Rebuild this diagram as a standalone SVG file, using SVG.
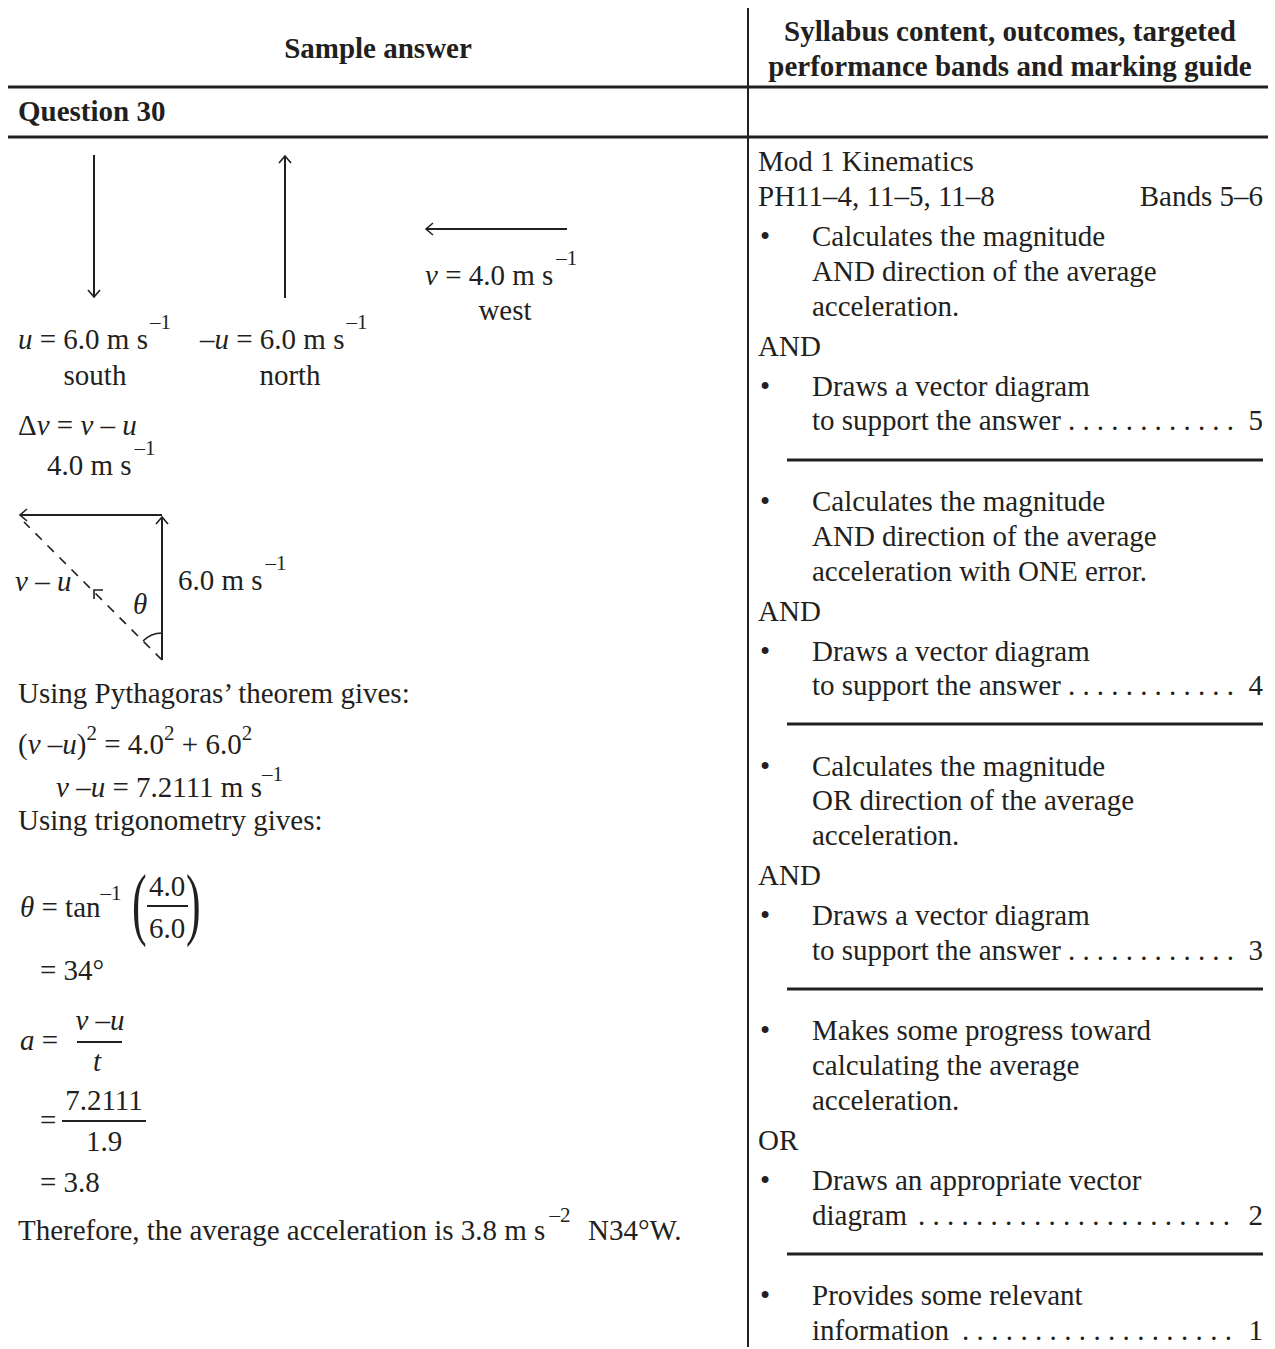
<svg xmlns="http://www.w3.org/2000/svg" width="1275" height="1349" viewBox="0 0 1275 1349">
<style>
text{font-family:"Liberation Serif","Times New Roman",serif;font-size:29px;fill:#231f20}
.b{font-weight:bold}
.i{font-style:italic}
.sup{font-size:21px}
.m{text-anchor:middle}
.e{text-anchor:end}
.rule{stroke:#231f20;stroke-width:3;fill:none}
.thin{stroke:#231f20;stroke-width:2;fill:none}
.vec{stroke:#231f20;stroke-width:2;fill:none}
</style>
<defs>
<marker id="ah" markerUnits="userSpaceOnUse" markerWidth="20" markerHeight="20" refX="0" refY="0" viewBox="-10 -10 20 20" orient="auto" overflow="visible">
<path d="M-7,-6 L0,0 L-7,6" fill="none" stroke="#231f20" stroke-width="1.6"/>
</marker>
</defs>

<g id="table">
<line class="rule" x1="8" y1="87" x2="1268" y2="87"/>
<line class="rule" x1="8" y1="137" x2="1268" y2="137"/>
<line class="thin" x1="748" y1="8" x2="748" y2="1347"/>
</g>

<g id="header">
<text class="b m" x="378" y="58">Sample answer</text>
<text class="b m" x="1010" y="41">Syllabus content, outcomes, targeted</text>
<text class="b m" x="1010" y="76">performance bands and marking guide</text>
<text class="b" x="18" y="121">Question 30</text>
</g>

<g id="connectors">
<line class="vec" x1="94" y1="155" x2="94" y2="297" marker-end="url(#ah)"/>
<line class="vec" x1="285" y1="298" x2="285" y2="156" marker-end="url(#ah)"/>
<line class="vec" x1="567" y1="229" x2="426" y2="229" marker-end="url(#ah)"/>
<line class="vec" x1="162" y1="515" x2="20" y2="515" marker-end="url(#ah)"/>
<line class="vec" x1="162" y1="660" x2="162" y2="517" marker-end="url(#ah)"/>
<line x1="162" y1="660" x2="24" y2="522" stroke="#231f20" stroke-width="1.6" stroke-dasharray="9,8"/>
<path d="M103,590 L94,590 L94,599" fill="none" stroke="#231f20" stroke-width="1.6"/>
<path d="M162,633 A27,27 0 0 0 143,641" fill="none" stroke="#231f20" stroke-width="1.6"/>
</g>

<g id="vector-labels">
<text x="18" y="349"><tspan class="i">u</tspan> = 6.0 m s<tspan class="sup" dx="2" dy="-20">–1</tspan></text>
<text class="m" x="95" y="385">south</text>
<text x="200" y="349">–<tspan class="i">u</tspan> = 6.0 m s<tspan class="sup" dx="2" dy="-20">–1</tspan></text>
<text class="m" x="290" y="385">north</text>
<text x="425" y="285"><tspan class="i">v</tspan> = 4.0 m s<tspan class="sup" dx="3" dy="-20">–1</tspan></text>
<text class="m" x="505" y="320">west</text>
<text x="18" y="435">Δ<tspan class="i">v</tspan> = <tspan class="i">v</tspan> – <tspan class="i">u</tspan></text>
<text x="47" y="475">4.0 m s<tspan class="sup" dx="3" dy="-20">–1</tspan></text>
<text x="178" y="590">6.0 m s<tspan class="sup" dx="3" dy="-20">–1</tspan></text>
<text x="15" y="591"><tspan class="i">v</tspan> – <tspan class="i">u</tspan></text>
<text class="i" x="133" y="614">θ</text>
</g>

<g id="working">
<text x="18" y="703">Using Pythagoras’ theorem gives:</text>
<text x="18" y="754">(<tspan class="i">v</tspan> –<tspan class="i">u</tspan>)<tspan class="sup" dy="-14">2</tspan><tspan dy="14"> = 4.0</tspan><tspan class="sup" dy="-14">2</tspan><tspan dy="14"> + 6.0</tspan><tspan class="sup" dy="-14">2</tspan></text>
<text x="56" y="797"><tspan class="i">v</tspan> –<tspan class="i">u</tspan> = 7.2111 m s<tspan class="sup" dy="-16">–1</tspan></text>
<text x="18" y="830">Using trigonometry gives:</text>
<text x="20" y="917"><tspan class="i">θ</tspan> = tan<tspan class="sup" dy="-17">–1</tspan></text>
<text transform="translate(132,930) scale(0.55,1)" style="font-size:80px">(</text>
<text transform="translate(186,930) scale(0.55,1)" style="font-size:80px">)</text>
<text class="m" x="167" y="896">4.0</text>
<line class="vec" x1="147" y1="906" x2="188" y2="906"/>
<text class="m" x="167" y="938">6.0</text>
<text x="40" y="980">= 34°</text>
<text x="20" y="1050"><tspan class="i">a</tspan> =</text>
<text class="m" x="100" y="1030"><tspan class="i">v</tspan> –<tspan class="i">u</tspan></text>
<line class="vec" x1="77" y1="1042" x2="122" y2="1042"/>
<text class="i m" x="97" y="1071">t</text>
<text x="40" y="1130">=</text>
<text class="m" x="104" y="1110">7.2111</text>
<line class="vec" x1="62" y1="1121" x2="146" y2="1121"/>
<text class="m" x="104" y="1151">1.9</text>
<text x="40" y="1192">= 3.8</text>
<text x="18" y="1240">Therefore, the average acceleration is 3.8 m s<tspan class="sup" dx="4" dy="-18">–2</tspan></text>
<text x="588" y="1240">N34°W.</text>
</g>

<g id="band-5">
<text x="758" y="171">Mod 1 Kinematics</text>
<text x="758" y="206">PH11–4, 11–5, 11–8</text>
<text class="e" x="1263" y="206">Bands 5–6</text>
<text x="760" y="246">•</text>
<text x="812" y="246">Calculates the magnitude</text>
<text x="812" y="281">AND direction of the average</text>
<text x="812" y="316">acceleration.</text>
<text x="758" y="356">AND</text>
<text x="760" y="396">•</text>
<text x="812" y="396">Draws a vector diagram</text>
<text x="812" y="430">to support the answer</text>
<text x="1068" y="430" textLength="166" lengthAdjust="spacing">............</text>
<text class="e" x="1263" y="430">5</text>
<line class="rule" x1="787" y1="460" x2="1263" y2="460"/>
</g>

<g id="band-4">
<text x="760" y="511">•</text>
<text x="812" y="511">Calculates the magnitude</text>
<text x="812" y="546">AND direction of the average</text>
<text x="812" y="581">acceleration with ONE error.</text>
<text x="758" y="621">AND</text>
<text x="760" y="661">•</text>
<text x="812" y="661">Draws a vector diagram</text>
<text x="812" y="695">to support the answer</text>
<text x="1068" y="695" textLength="166" lengthAdjust="spacing">............</text>
<text class="e" x="1263" y="695">4</text>
<line class="rule" x1="787" y1="724" x2="1263" y2="724"/>
</g>

<g id="band-3">
<text x="760" y="776">•</text>
<text x="812" y="776">Calculates the magnitude</text>
<text x="812" y="810">OR direction of the average</text>
<text x="812" y="845">acceleration.</text>
<text x="758" y="885">AND</text>
<text x="760" y="925">•</text>
<text x="812" y="925">Draws a vector diagram</text>
<text x="812" y="960">to support the answer</text>
<text x="1068" y="960" textLength="166" lengthAdjust="spacing">............</text>
<text class="e" x="1263" y="960">3</text>
<line class="rule" x1="787" y1="989" x2="1263" y2="989"/>
</g>

<g id="band-2">
<text x="760" y="1040">•</text>
<text x="812" y="1040">Makes some progress toward</text>
<text x="812" y="1075">calculating the average</text>
<text x="812" y="1110">acceleration.</text>
<text x="758" y="1150">OR</text>
<text x="760" y="1190">•</text>
<text x="812" y="1190">Draws an appropriate vector</text>
<text x="812" y="1225">diagram</text>
<text x="918" y="1225" textLength="312" lengthAdjust="spacing">......................</text>
<text class="e" x="1263" y="1225">2</text>
<line class="rule" x1="787" y1="1254" x2="1263" y2="1254"/>
</g>

<g id="band-1">
<text x="760" y="1305">•</text>
<text x="812" y="1305">Provides some relevant</text>
<text x="812" y="1340">information</text>
<text x="962" y="1340" textLength="270" lengthAdjust="spacing">...................</text>
<text class="e" x="1263" y="1340">1</text>
</g>
</svg>
